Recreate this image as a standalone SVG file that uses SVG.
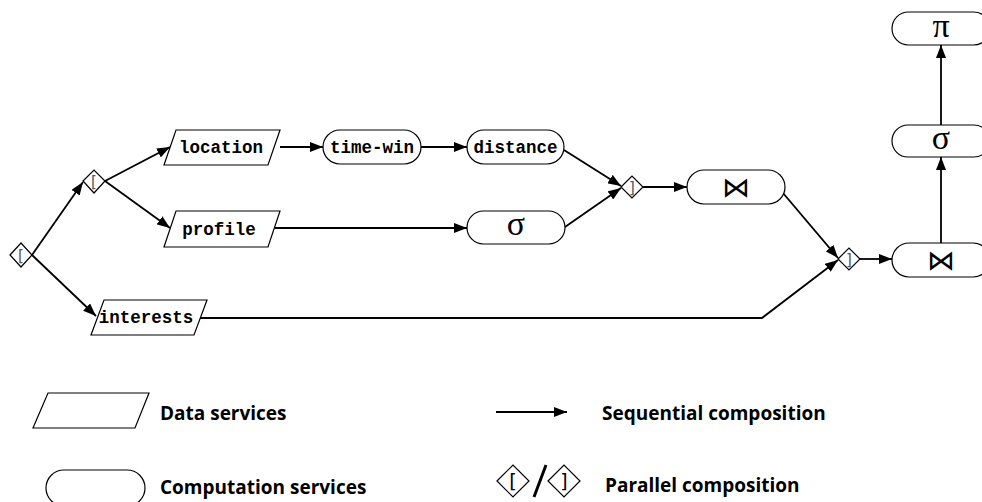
<svg xmlns="http://www.w3.org/2000/svg" width="982" height="502" viewBox="0 0 982 502">
<style>
.shape{fill:#fff;stroke:#000;stroke-width:1.2}
.conn{fill:none;stroke:#000;stroke-width:1.8}
.mono{font-family:"Liberation Mono","Courier New",monospace;font-weight:bold;font-size:17.5px;text-anchor:middle}
.sym{font-family:"Liberation Serif","DejaVu Serif",serif;font-size:34px;text-anchor:middle}
.bow{font-family:"DejaVu Sans",sans-serif;font-size:28px;text-anchor:middle}
.br{font-family:"DejaVu Sans",sans-serif;font-size:15px;fill:#555;text-anchor:middle}
.brl{font-family:"DejaVu Sans",sans-serif;font-size:19px;fill:#000;text-anchor:middle}
.leg{font-family:"Open Sans","Liberation Sans",sans-serif;font-weight:bold;font-size:19px}
</style>
<defs>
<marker id="ah" markerUnits="userSpaceOnUse" markerWidth="13" markerHeight="10" refX="13" refY="5" orient="auto">
<path d="M0,0 L13,5 L0,10 z" fill="#000"/>
</marker>
</defs>
<g id="connectors">
<line class="conn" x1="32" y1="255" x2="83" y2="182" marker-end="url(#ah)"/>
<line class="conn" x1="105" y1="181" x2="170" y2="147" marker-end="url(#ah)"/>
<line class="conn" x1="105" y1="181" x2="170" y2="228" marker-end="url(#ah)"/>
<line class="conn" x1="32" y1="255" x2="96" y2="316" marker-end="url(#ah)"/>
<line class="conn" x1="280" y1="147" x2="323" y2="147" marker-end="url(#ah)"/>
<line class="conn" x1="421" y1="147" x2="467" y2="147" marker-end="url(#ah)"/>
<line class="conn" x1="275" y1="228" x2="467" y2="228" marker-end="url(#ah)"/>
<line class="conn" x1="564" y1="150" x2="621" y2="186" marker-end="url(#ah)"/>
<line class="conn" x1="565" y1="227" x2="621" y2="188" marker-end="url(#ah)"/>
<line class="conn" x1="643" y1="187" x2="687" y2="187" marker-end="url(#ah)"/>
<line class="conn" x1="783" y1="193" x2="838" y2="258" marker-end="url(#ah)"/>
<polyline class="conn" points="199,318 762,318 838,260" marker-end="url(#ah)"/>
<line class="conn" x1="860" y1="259" x2="892" y2="259" marker-end="url(#ah)"/>
<line class="conn" x1="941" y1="243" x2="941" y2="157" marker-end="url(#ah)"/>
<line class="conn" x1="941" y1="125" x2="941" y2="45" marker-end="url(#ah)"/>
</g>
<g id="fork1">
<polygon class="shape" points="10,255 21,243 32,255 21,267"/>
<text class="br" x="21" y="261">[</text>
</g>
<g id="fork2">
<polygon class="shape" points="83,181 94,170 105,181 94,193"/>
<text class="br" x="94" y="187">[</text>
</g>
<g id="location">
<polygon class="shape" points="176,130 280,130 268,165 164,165"/>
<text class="mono" x="221" y="153">location</text>
</g>
<g id="profile">
<polygon class="shape" points="176,211 280,211 268,247 164,247"/>
<text class="mono" x="219" y="235">profile</text>
</g>
<g id="interests">
<polygon class="shape" points="104,300 207,300 194,335 91,335"/>
<text class="mono" x="146" y="323">interests</text>
</g>
<g id="time-win">
<rect class="shape" x="323" y="130" width="98" height="34" rx="17"/>
<text class="mono" x="372" y="153">time-win</text>
</g>
<g id="distance">
<rect class="shape" x="467" y="130" width="97" height="34" rx="17"/>
<text class="mono" x="515.5" y="153">distance</text>
</g>
<g id="select1">
<rect class="shape" x="467" y="211" width="98" height="33" rx="16.5"/>
<text class="sym" x="516" y="235">σ</text>
</g>
<g id="join1">
<polygon class="shape" points="621,187 632,176 643,187 632,198"/>
<text class="br" x="632" y="193">]</text>
</g>
<g id="bowtie1">
<rect class="shape" x="687" y="170" width="98" height="34" rx="17"/>
<text class="bow" x="736" y="197">⋈</text>
</g>
<g id="join2">
<polygon class="shape" points="838,259 849,248 860,259 849,270"/>
<text class="br" x="849" y="265">]</text>
</g>
<g id="bowtie2">
<rect class="shape" x="892" y="243" width="98" height="34" rx="17"/>
<text class="bow" x="941" y="270">⋈</text>
</g>
<g id="select2">
<rect class="shape" x="892" y="125" width="98" height="32" rx="16"/>
<text class="sym" x="941" y="149">σ</text>
</g>
<g id="project">
<rect class="shape" x="892" y="12" width="98" height="33" rx="16.5"/>
<text class="sym" x="941" y="37">π</text>
</g>
<g id="legend">
<polygon class="shape" points="48,393 149,393 135,428 33,428"/>
<text class="leg" x="160" y="420">Data services</text>
<rect class="shape" x="46" y="470" width="99" height="36" rx="18"/>
<text class="leg" x="160" y="494">Computation services</text>
<line class="conn" x1="496" y1="412" x2="567" y2="412" marker-end="url(#ah)"/>
<text class="leg" x="602" y="420">Sequential composition</text>
<polygon class="shape" points="497,481 513,465 529,481 513,497"/>
<text class="brl" x="513" y="488">[</text>
<line x1="546" y1="465" x2="534" y2="497" stroke="#000" stroke-width="3"/>
<polygon class="shape" points="548,481 564,465 580,481 564,497"/>
<text class="brl" x="564" y="488">]</text>
<text class="leg" x="605" y="492">Parallel composition</text>
</g>
</svg>
